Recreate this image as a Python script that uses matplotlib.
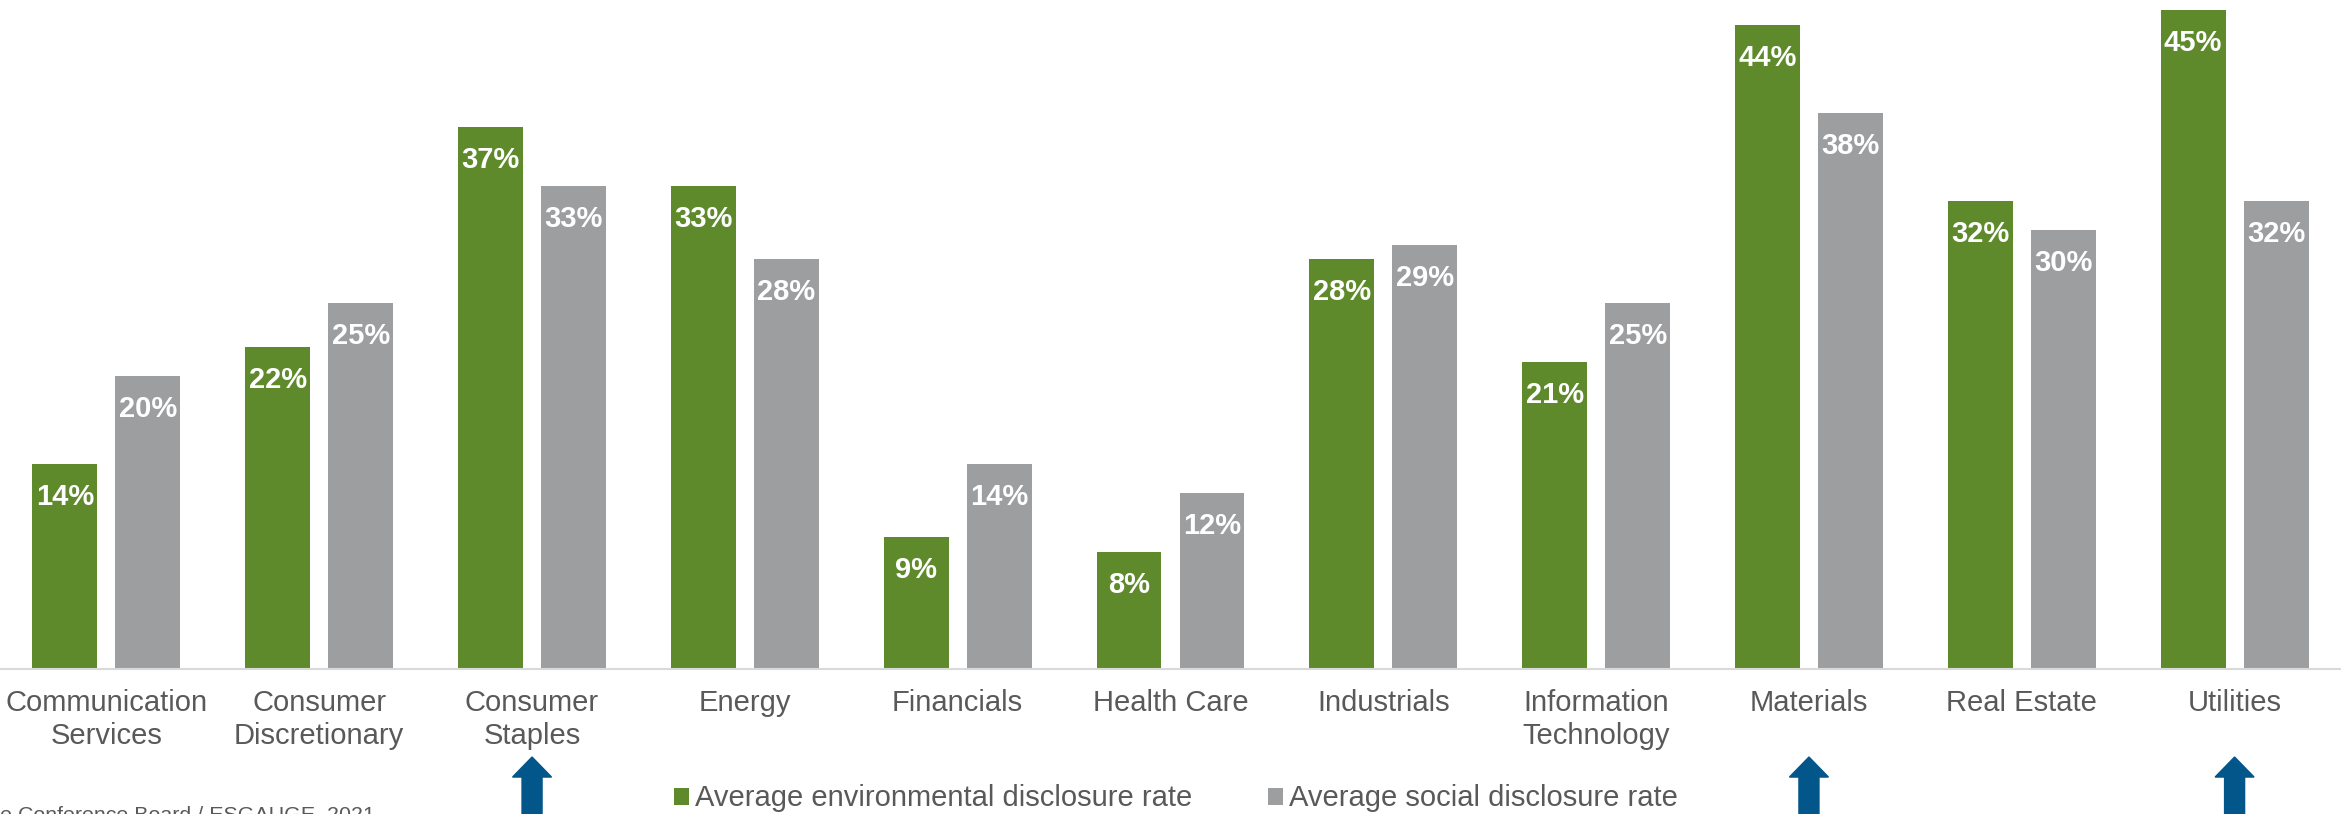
import numpy as np
import matplotlib
matplotlib.use("Agg")
import matplotlib.pyplot as plt
from matplotlib.transforms import blended_transform_factory
from matplotlib.patches import FancyArrow

plt.rcParams['font.family'] = ['Liberation Sans', 'DejaVu Sans']

# Disclosure rates by sector (%)
sectors = ['Communication\nServices', 'Consumer\nDiscretionary', 'Consumer\nStaples',
           'Energy', 'Financials', 'Health Care', 'Industrials',
           'Information\nTechnology', 'Materials', 'Real Estate', 'Utilities']
env_rate = [14, 22, 37, 33, 9, 8, 28, 21, 44, 32, 45]
soc_rate = [20, 25, 33, 28, 14, 12, 29, 25, 38, 30, 32]
highlighted = ['Consumer\nStaples', 'Materials', 'Utilities']
source_note = 'Source: The Conference Board / ESGAUGE, 2021'

GREEN = '#5f8a2c'
GRAY = '#9d9ea0'
TEXT = '#595959'
BLUE = '#02568a'

fig = plt.figure(figsize=(23.41, 8.14), dpi=100)
ax = fig.add_axes([0, 0.178, 1, 0.822])

x = np.arange(len(sectors))
w = 0.305
off = 0.195
b1 = ax.bar(x - off, env_rate, w, color=GREEN, label='Average environmental disclosure rate')
b2 = ax.bar(x + off, soc_rate, w, color=GRAY, label='Average social disclosure rate')

# white value labels just inside the top of each bar
for bars, vals in [(b1, env_rate), (b2, soc_rate)]:
    for rect, v in zip(bars, vals):
        ax.annotate(f'{v}%', (rect.get_x() + rect.get_width() / 2, v),
                    xytext=(0, -41), textcoords='offset pixels',
                    ha='center', va='baseline', color='white',
                    fontsize=21, fontweight='bold')

ax.set_xlim(-0.5, len(sectors) - 0.5)
ax.set_ylim(0, 45.7)
ax.set_xticks(x)
ax.set_xticklabels(sectors, fontsize=21, color=TEXT, linespacing=1.23)
ax.tick_params(axis='x', length=0, pad=14)
ax.set_yticks([])
for s in ['top', 'left', 'right']:
    ax.spines[s].set_visible(False)
ax.spines['bottom'].set_color('#d9d9d9')
ax.spines['bottom'].set_linewidth(1.5)

# up arrows under the highlighted sectors
trans = blended_transform_factory(ax.transData, fig.transFigure)
for name in highlighted:
    i = sectors.index(name)
    arr = FancyArrow(i, -0.01, 0, 0.08, width=0.094, head_width=0.183,
                     head_length=0.0246, length_includes_head=True,
                     color=BLUE, transform=trans, clip_on=False)
    ax.add_patch(arr)

leg = ax.legend(loc='lower left', bbox_to_anchor=(674 / 2341, 0.002),
                bbox_transform=fig.transFigure, ncol=2, frameon=False,
                fontsize=21, handlelength=0.52, handleheight=0.52,
                handletextpad=0.2, columnspacing=2.6, borderpad=0,
                borderaxespad=0)
for t in leg.get_texts():
    t.set_color(TEXT)

fig.text(375 / 2341, -0.008, source_note, ha='right', va='baseline',
         fontsize=15.4, color=TEXT)

fig.savefig('out.png', dpi=100)
